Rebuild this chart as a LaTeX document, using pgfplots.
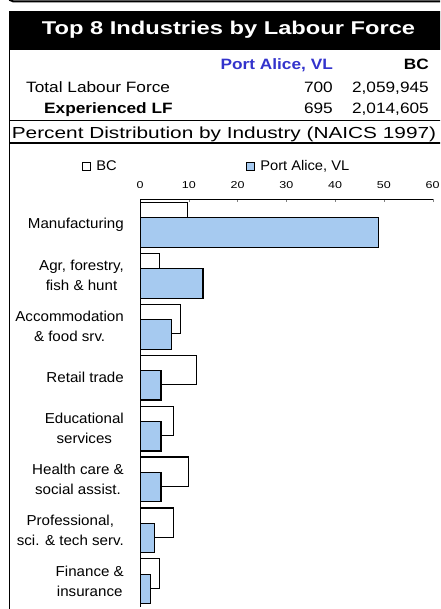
\documentclass[border=0pt]{standalone}
\usepackage{fontspec}
\setmainfont{Liberation Sans}
\newfontfamily\fTitle[FakeStretch=1.28]{Liberation Sans}
\newfontfamily\fTab[FakeStretch=1.15]{Liberation Sans}
\newfontfamily\fPct[FakeStretch=1.3]{Liberation Sans}
\newfontfamily\fLab[FakeStretch=1.05]{Liberation Sans}
\newfontfamily\fTick[FakeStretch=1.25]{Liberation Sans}
\usepackage{pgfplots}
\pgfplotsset{compat=1.18}
\usepackage{pgfplotstable}

\definecolor{pablue}{RGB}{51,51,204}
\definecolor{barblue}{RGB}{166,202,240}

% percent of experienced labour force, top 8 industries
\pgfplotstableread{
idx bc   pa
1   9.7  48.9
2   4.0  12.9
3   8.3  6.5
4   11.5 4.3
5   6.9  4.3
6   9.9  4.3
7   6.8  2.9
8   4.0  2.2
}\indtable

\begin{document}
\begin{tikzpicture}[x=1pt,y=1pt]
\useasboundingbox (0,0) rectangle (440,609);
\clip (0,0) rectangle (440,609);

% frame pieces
\draw[line width=2pt, rounded corners=5pt] (8.5,625) -- (8.5,607.5) -- (450,607.5);
\fill[black] (8.6,559) rectangle (450,598);
\draw[line width=1.5pt] (9.3,559) -- (9.3,-5);
\draw[line width=1.5pt] (9.3,488.3) -- (450,488.3);
\draw[line width=1.5pt] (9.3,466) -- (450,466);

% title and header table
\node[anchor=base, inner sep=0, text=white] at (228.5,574.7)
  {\fTitle\bfseries\fontsize{18.5}{20}\selectfont Top 8 Industries by Labour Force};
\node[anchor=base east, inner sep=0, text=pablue] at (333,539.5)
  {\fTab\bfseries\fontsize{15}{18}\selectfont Port Alice, VL};
\node[anchor=base east, inner sep=0] at (429,539.5)
  {\fTab\bfseries\fontsize{15}{18}\selectfont BC};
\node[anchor=base west, inner sep=0] at (26,516.7)
  {\fTab\fontsize{15}{18}\selectfont Total Labour Force};
\node[anchor=base east, inner sep=0] at (333,516.7)
  {\fTab\fontsize{15}{18}\selectfont 700};
\node[anchor=base east, inner sep=0] at (429,516.7)
  {\fTab\fontsize{15}{18}\selectfont 2,059,945};
\node[anchor=base west, inner sep=0] at (44,495.7)
  {\fTab\bfseries\fontsize{15}{18}\selectfont Experienced LF};
\node[anchor=base east, inner sep=0] at (333,495.7)
  {\fTab\fontsize{15}{18}\selectfont 695};
\node[anchor=base east, inner sep=0] at (429,495.7)
  {\fTab\fontsize{15}{18}\selectfont 2,014,605};
\node[anchor=base, inner sep=0] at (224,470.7)
  {\fPct\fontsize{16}{18}\selectfont Percent Distribution by Industry (NAICS 1997)};

\begin{axis}[
    at={(140pt,409.5pt)},
    anchor=north west,
    scale only axis,
    width=292.7pt,
    height=407.2pt,
    xmin=0, xmax=60,
    ymin=0.5, ymax=8.5,
    y dir=reverse,
    axis x line=top,
    axis y line=left,
    axis line style={-, line width=0.8pt},
    xtick={0,10,...,60},
    tick align=inside,
    major tick length=3pt,
    /pgf/number format/assume math mode=true,
    xticklabel style={font=\fTick\fontsize{10}{11}\selectfont, yshift=7pt},
    ytick={1,...,8},
    yticklabels={Manufacturing,
      {Agr, forestry,\\fish \& hunt},
      {Accommodation\\\& food srv.},
      Retail trade,
      {Educational\\services},
      {Health care \&\\social assist.},
      {Professional,\\sci. \& tech serv.},
      {Finance \&\\insurance}},
    ytick style={draw=none},
    yticklabel style={font=\fLab\fontsize{14.4}{20}\selectfont, align=center,
      anchor=east, inner sep=0pt, xshift=-13pt},
    xbar,
    bar width=0.58,
    legend columns=2,
    legend style={at={(-0.2,1.081)}, anchor=west, draw=none, fill=none,
      inner sep=0pt, font=\fLab\fontsize{14}{16}\selectfont,
      /tikz/every even column/.append style={column sep=127pt}},
  ]
  \addplot[xbar, bar shift=-0.15, fill=white, draw=black, line width=1.2pt,
    legend image code/.code={\draw[fill=white, draw=black, line width=0.9pt] (0pt,-4.3pt) rectangle (8.7pt,4.3pt);}]
    table[x=bc, y=idx] {\indtable};
  \addlegendentry{\hspace{3pt}BC}
  \addplot[xbar, bar shift=0.15, fill=barblue, draw=black, line width=1.2pt,
    legend image code/.code={\draw[fill=barblue, draw=black, line width=0.9pt] (0pt,-4.3pt) rectangle (8.7pt,4.3pt);}]
    table[x=pa, y=idx] {\indtable};
  \addlegendentry{\hspace{3pt}Port Alice, VL}
\end{axis}
\end{tikzpicture}
\end{document}
